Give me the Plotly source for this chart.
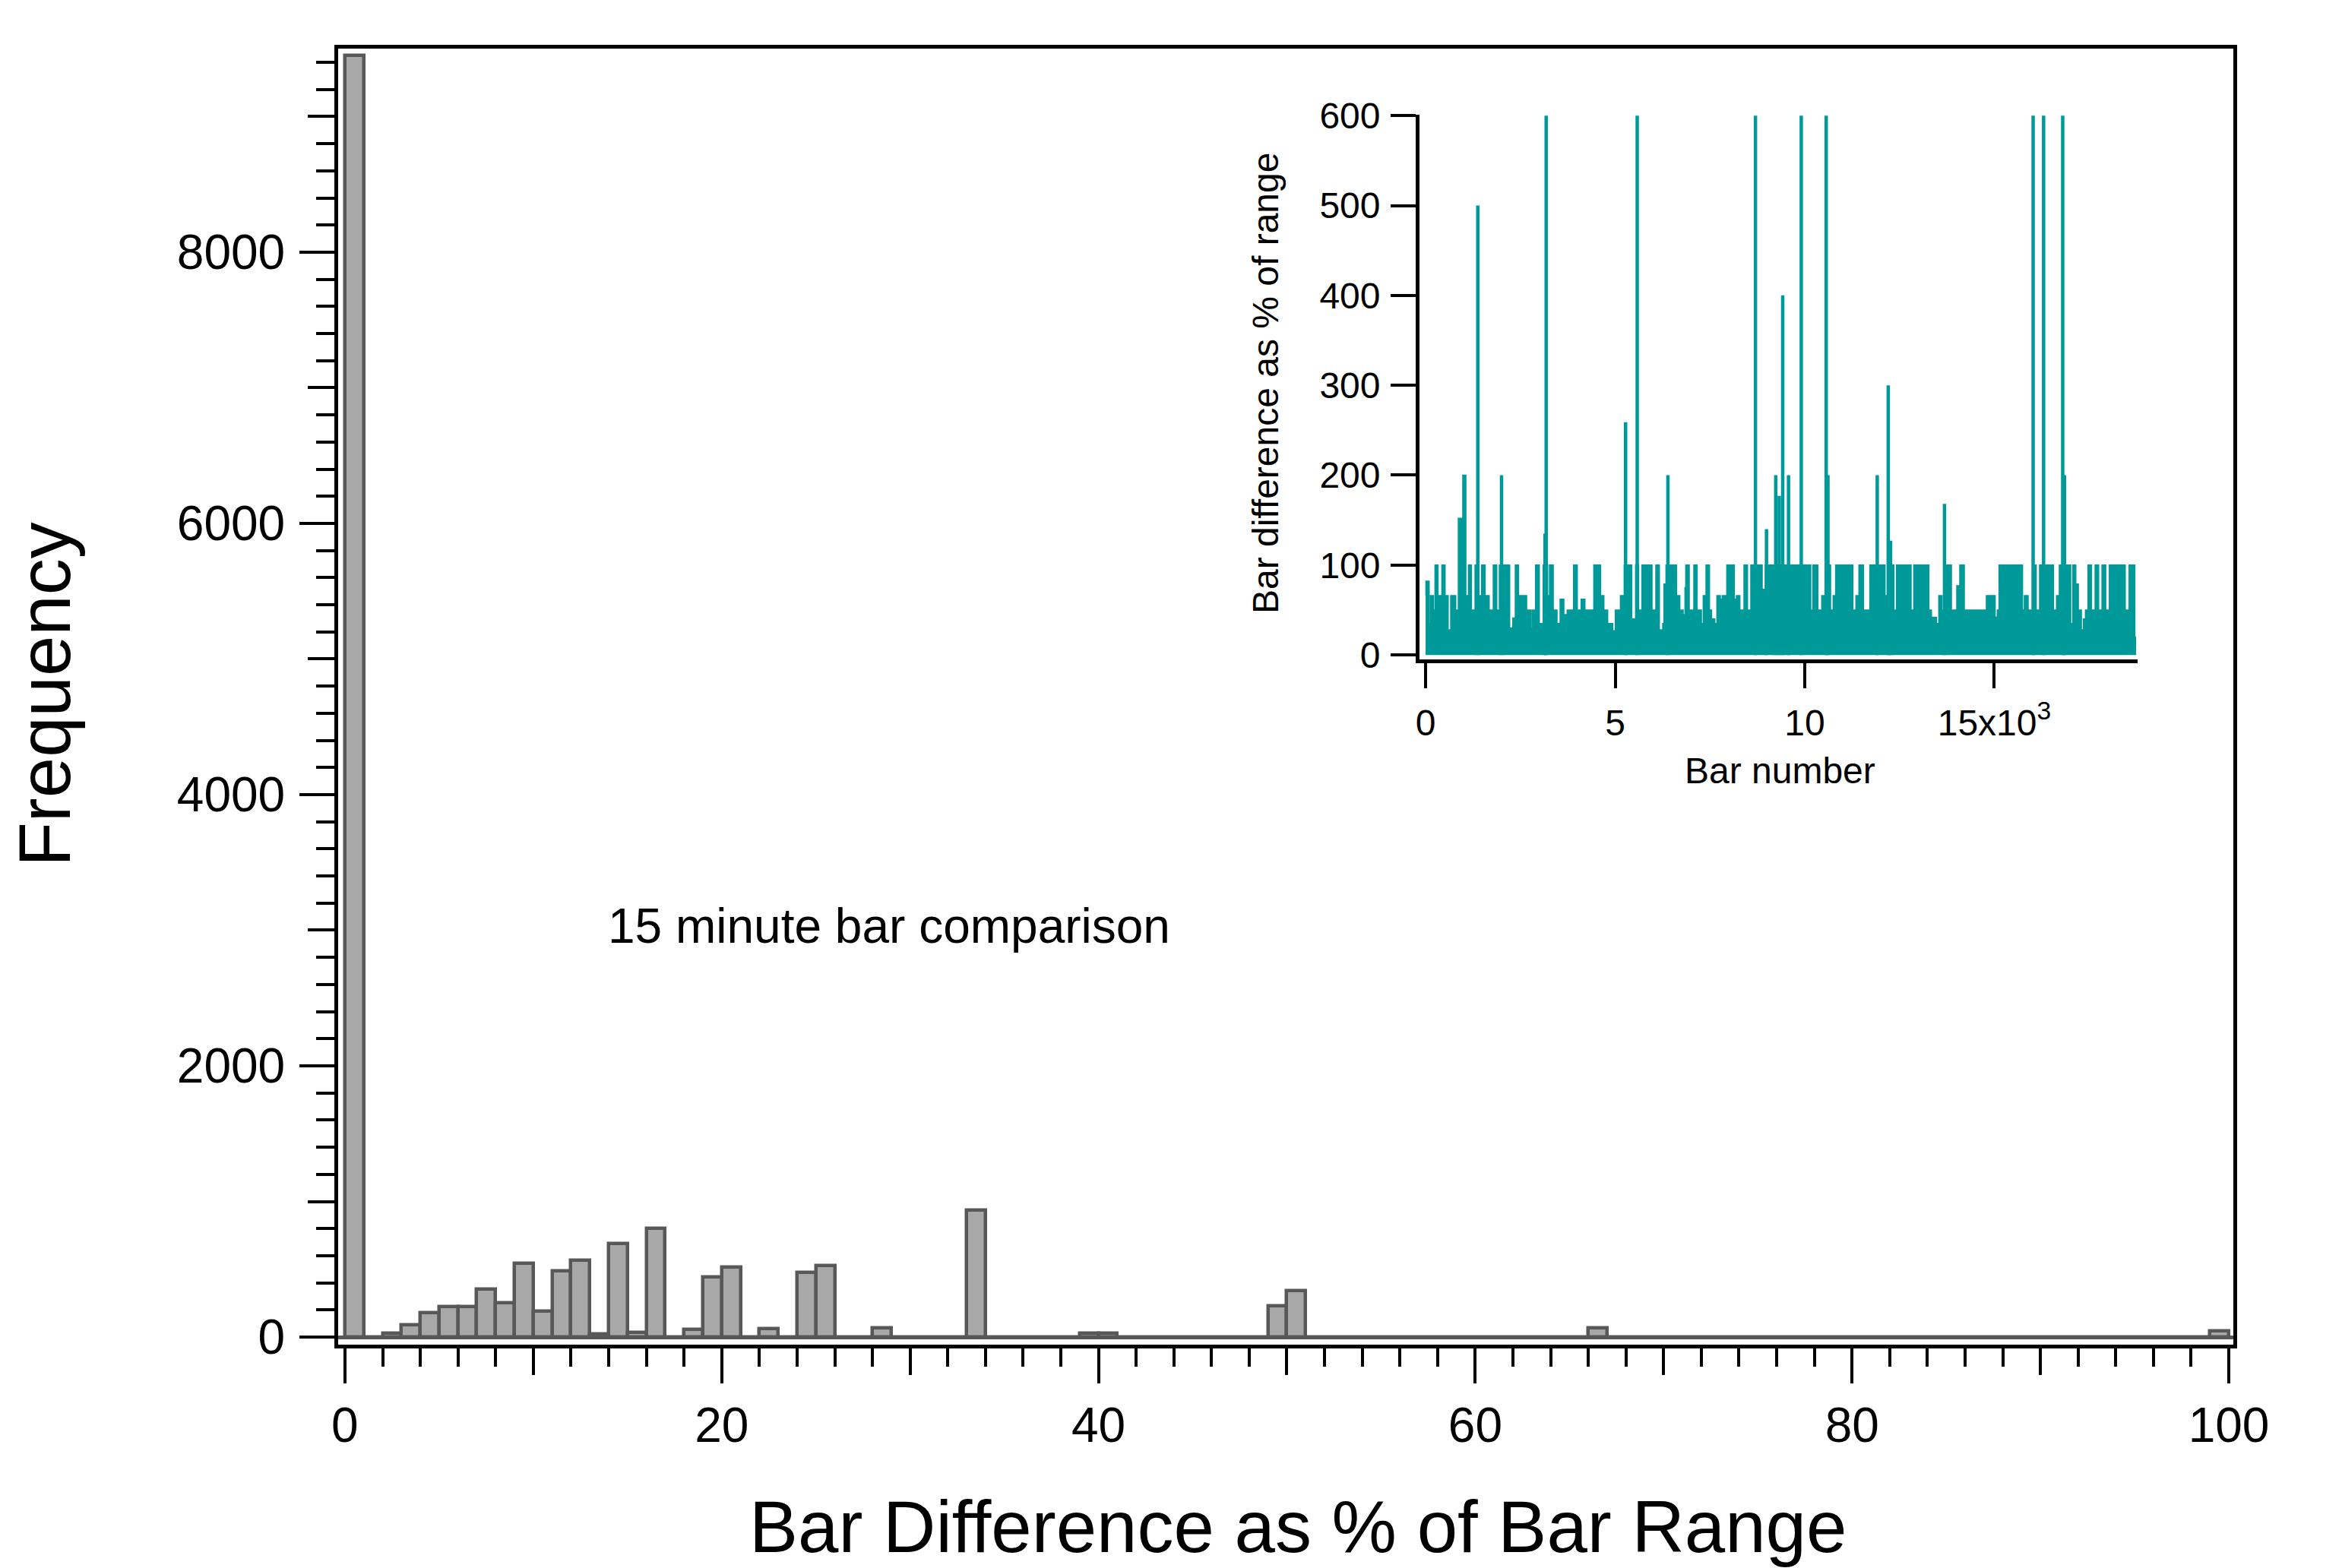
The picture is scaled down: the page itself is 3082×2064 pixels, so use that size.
import plotly.graph_objects as go

# ---------------- main histogram (bins of width 1, 0..100) ----------------
bin_left = list(range(100))
counts = [9450, 0, 30, 90, 180, 225, 225, 355, 250, 545,
          190, 490, 565, 20, 690, 35, 800, 0, 55, 445,
          515, 0, 60, 0, 475, 525, 0, 0, 65, 0,
          0, 0, 0, 935, 0, 0, 0, 0, 0, 30,
          30, 0, 0, 0, 0, 0, 0, 0, 0, 228,
          340, 0, 0, 0, 0, 0, 0, 0, 0, 0,
          0, 0, 0, 0, 0, 0, 65, 0, 0, 0,
          0, 0, 0, 0, 0, 0, 0, 0, 0, 0,
          0, 0, 0, 0, 0, 0, 0, 0, 0, 0,
          0, 0, 0, 0, 0, 0, 0, 0, 0, 45]
x_major_ticks = [0, 20, 40, 60, 80, 100]
x_mid_ticks = [10, 30, 50, 70, 90]
y_major_ticks = [0, 2000, 4000, 6000, 8000]
y_mid_ticks = [1000, 3000, 5000, 7000, 9000]

# ---------------- inset: bar difference vs bar number ----------------
# step envelope: (start bar number, level)
inset_seg_start = [0, 7, 94, 127, 207, 247, 327, 428, 514, 595, 661, 795, 862, 980, 1062, 1129, 1209,
                   1303, 1396, 1476, 1570, 1677, 1784, 1877, 1944, 2218, 2298, 2365, 2452, 2665, 2779,
                   2812, 2899, 2999, 3100, 3220, 3267, 3367, 3467, 3547, 3647, 3734, 3901, 4001, 4102,
                   4202, 4436, 4616, 4703, 4803, 4936, 5003, 5137, 5237, 5438, 5538, 5618, 5705, 5972,
                   6072, 6166, 6253, 6286, 6340, 6620, 6706, 6794, 6841, 6861, 6954, 7074, 7160, 7275,
                   7322, 7395, 7488, 7542, 7629, 7682, 7776, 7823, 7943, 8143, 8196, 8290, 8397, 8490,
                   8577, 8878, 8958, 10160, 10213, 10347, 10447, 10548, 10682, 10748, 10815, 11269,
                   11349, 11429, 11549, 11716, 12118, 12192, 12352, 12419, 12806, 12874, 13275, 13342,
                   13475, 13535, 13622, 13669, 13869, 14009, 14089, 14209, 14790, 15023, 15077, 15123,
                   15745, 15791, 15892, 16012, 16106, 16193, 16561, 16641, 16714, 17016, 17070, 17150,
                   17217, 17297, 17350, 17403, 17470, 17564, 17658, 17752, 17839, 17939, 18033, 18454,
                   18554, 18707]
inset_seg_level = [66, 82, 35, 66, 50, 100, 66, 100, 66, 28, 66, 50, 152, 200, 66, 100, 50,
                   100, 66, 100, 66, 50, 100, 50, 100, 30, 41, 100, 66, 50, 30,
                   50, 100, 35, 100, 66, 100, 50, 35, 62, 45, 50, 100, 50, 62,
                   50, 100, 66, 50, 35, 27, 50, 66, 100, 40, 100, 50, 100, 50,
                   100, 28, 35, 79, 100, 66, 50, 45, 75, 100, 50, 100, 50, 35,
                   66, 100, 50, 40, 35, 66, 62, 66, 100, 62, 66, 50, 100, 50,
                   100, 73, 100, 50, 100, 50, 66, 100, 50, 66, 100, 50,
                   66, 100, 50, 100, 66, 100, 50, 100, 50, 100, 50, 42,
                   35, 66, 50, 100, 50, 77, 100, 50, 66, 42, 50, 100,
                   50, 66, 50, 100, 50, 100, 50, 66, 100, 35, 100, 79,
                   50, 28, 40, 50, 100, 50, 100, 50, 100, 50, 100, 50,
                   100, 20]
inset_last_bar = 18740
spike_bar = [1376, 2003, 3150, 3180, 5275, 5581, 6391, 8700, 8991, 9235, 9327, 9419, 9572,
             9908, 10566, 10612, 11912, 12202, 12264, 13686, 16024, 16300, 16804, 16850]
spike_value = [500, 200, 135, 600, 259, 600, 200, 600, 140, 200, 177, 400, 200,
               600, 600, 200, 200, 300, 127, 168, 600, 600, 600, 200]
inset_x_ticks = [0, 5000, 10000, 15000]
inset_x_ticktext = ["0", "5", "10", "15x10<sup>3</sup>"]

FONT = "Arial, Liberation Sans, sans-serif"
TEAL = "#009999"
BAR_FILL = "#a8a8a8"
BAR_LINE = "#585858"

fig = go.Figure()

fig.add_trace(go.Bar(
    x=bin_left, y=counts, width=1, offset=0,
    marker=dict(color=BAR_FILL, line=dict(color=BAR_LINE, width=4.5)),
    xaxis="x", yaxis="y", showlegend=False, hoverinfo="skip"))

env_x = inset_seg_start + [inset_last_bar]
env_y = inset_seg_level + [inset_seg_level[-1]]
fig.add_trace(go.Scatter(
    x=env_x, y=env_y, mode="lines", line=dict(shape="hv", color=TEAL, width=1.5),
    fill="tozeroy", fillcolor=TEAL, xaxis="x2", yaxis="y2", showlegend=False, hoverinfo="skip"))

sx, sy = [], []
for b, v in zip(spike_bar, spike_value):
    sx += [b, b, None]
    sy += [0, v, None]
fig.add_trace(go.Scatter(
    x=sx, y=sy, mode="lines", line=dict(color=TEAL, width=4.5),
    xaxis="x2", yaxis="y2", showlegend=False, hoverinfo="skip"))

# empty trace to make sure the tick-only overlay axes exist
fig.add_trace(go.Scatter(x=[], y=[], xaxis="x3", yaxis="y3", showlegend=False, hoverinfo="skip"))

XR = [-0.36, 100.24]
YR = [-56, 9501]

fig.update_layout(
    width=3082, height=2064,
    margin=dict(l=445, r=143, t=64, b=294),
    paper_bgcolor="white", plot_bgcolor="white",
    font=dict(family=FONT, color="black"),
    bargap=0,
    xaxis=dict(domain=[0, 1], range=XR, tickmode="array", tickvals=x_major_ticks,
               ticks="outside", ticklen=46, tickwidth=4, tickcolor="black",
               showline=True, linewidth=5, linecolor="black", mirror=True,
               showgrid=False, zeroline=False, tickfont=dict(size=64, family=FONT),
               ticklabelstandoff=0,
               minor=dict(tick0=0, dtick=2, ticks="outside", ticklen=24, tickwidth=4,
                          tickcolor="black", showgrid=False)),
    yaxis=dict(domain=[0, 1], range=YR, tickmode="array", tickvals=y_major_ticks,
               ticks="outside", ticklen=46, tickwidth=4, tickcolor="black",
               showline=True, linewidth=5, linecolor="black", mirror=True,
               showgrid=False, zeroline=True, zerolinecolor=BAR_LINE, zerolinewidth=4.5,
               tickfont=dict(size=64, family=FONT), ticklabelstandoff=6,
               minor=dict(tick0=0, dtick=200, ticks="outside", ticklen=24, tickwidth=4,
                          tickcolor="black", showgrid=False)),
    xaxis3=dict(overlaying="x", anchor="y", side="bottom", range=XR, tickmode="array",
                tickvals=x_mid_ticks, ticks="outside", ticklen=35, tickwidth=4, tickcolor="black",
                showticklabels=False, showline=True, linewidth=5, linecolor="black",
                showgrid=False, zeroline=False),
    yaxis3=dict(overlaying="y", anchor="x", side="left", range=YR, tickmode="array",
                tickvals=y_mid_ticks, ticks="outside", ticklen=35, tickwidth=4, tickcolor="black",
                showticklabels=False, showline=True, linewidth=5, linecolor="black",
                showgrid=False, zeroline=False),
    xaxis2=dict(domain=[0.5706, 0.9495], anchor="y2", range=[-160, 18780],
                tickmode="array", tickvals=inset_x_ticks, ticktext=inset_x_ticktext,
                ticks="outside", ticklen=33, tickwidth=4, tickcolor="black",
                showline=True, linewidth=5, linecolor="black", mirror=False,
                showgrid=False, zeroline=False, tickfont=dict(size=48, family=FONT),
                ticklabelstandoff=4),
    yaxis2=dict(domain=[0.5287, 0.949], anchor="x2", range=[-5, 601],
                tick0=0, dtick=100, ticks="outside", ticklen=33, tickwidth=4, tickcolor="black",
                showline=True, linewidth=5, linecolor="black", mirror=False,
                showgrid=False, zeroline=False, tickfont=dict(size=48, family=FONT),
                ticklabelstandoff=4),
    annotations=[
        dict(text="Frequency", xref="paper", yref="paper", x=-0.1548, y=0.5018,
             showarrow=False, textangle=-90, font=dict(size=96, family=FONT),
             xanchor="center", yanchor="middle"),
        dict(text="Bar Difference as % of Bar Range", xref="paper", yref="paper",
             x=0.5064, y=-0.1401, showarrow=False, font=dict(size=96, family=FONT),
             xanchor="center", yanchor="middle"),
        dict(text="15 minute bar comparison", xref="paper", yref="paper",
             x=0.2907, y=0.3230, showarrow=False, font=dict(size=64, family=FONT),
             xanchor="center", yanchor="middle"),
        dict(text="Bar difference as % of range", xref="paper", yref="paper",
             x=0.4892, y=0.7415, showarrow=False, textangle=-90, font=dict(size=48, family=FONT),
             xanchor="center", yanchor="middle"),
        dict(text="Bar number", xref="paper", yref="paper", x=0.7610, y=0.4426,
             showarrow=False, font=dict(size=48, family=FONT),
             xanchor="center", yanchor="middle"),
    ],
)

# remove the page's default 8px body margin so the figure fills the window exactly
fig.write_html("out.html",
               config={"displayModeBar": False},
               post_script="document.body.style.margin='0px';document.body.style.overflow='hidden';")
